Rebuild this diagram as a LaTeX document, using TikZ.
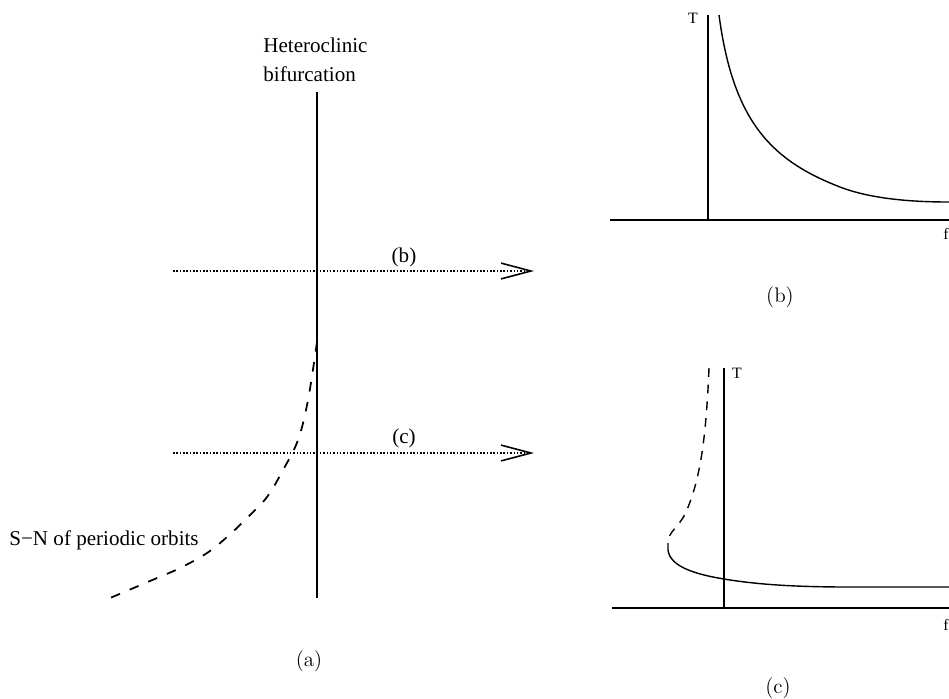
\documentclass[tikz,border=0pt]{standalone}
\usepackage{fontspec}
\usepackage{tikz}
\usetikzlibrary{positioning,arrows.meta}
\newfontfamily\tmsfont{Liberation Serif}

\begin{document}
\begin{tikzpicture}[
      x=0.02cm,y=-0.02cm,
      lbl/.style={font=\tmsfont\fontsize{12}{16}\selectfont,inner sep=0pt},
      axlbl/.style={font=\tmsfont\fontsize{9}{10}\selectfont,inner sep=0pt},
      captxt/.style={font=\fontsize{12}{14}\selectfont,inner sep=0pt},
      axis/.style={draw=black,line width=0.8pt},
      branch/.style={draw=black,line width=0.8pt},
      unstable/.style={draw=black,line width=1pt,dash pattern=on 5.5pt off 6pt},
      probe/.style={draw=black,line width=1.1pt,dash pattern=on 0.9pt off 1pt,
        -{Straight Barb[length=17pt,width=9pt,line width=0.9pt]}}
    ]
    \useasboundingbox (0,0) rectangle (949,698);
    % panel (a): the parameter plane
    \coordinate (hTop) at (317,92);
    \coordinate (hBot) at (317,598);
    \draw[branch,line width=1pt] (hTop) -- (hBot);
    \node[lbl,align=left,anchor=north west] (hetero) at (263,38)
      {Heteroclinic\\bifurcation};
    \draw[unstable] plot[smooth,tension=0.6] coordinates
      {(317,342) (308,400) (298,440) (283,470) (267,497) (247,518) (227,537)
       (207,553) (180,568) (150,581) (110,598)};
    \node[lbl,anchor=base west] (sn) at (9,545) {S−N of periodic orbits};
    \coordinate (bStart) at (173,271);
    \coordinate (bEnd) at (534,271);
    \coordinate (cStart) at (173,453);
    \coordinate (cEnd) at (534,453);
    \draw[probe] (bStart) -- (bEnd);
    \draw[probe] (cStart) -- (cEnd);
    \node[lbl] (pathB) at (404,257) {(b)};
    \node[lbl] (pathC) at (404,438) {(c)};
    \node[captxt] (capA) at (309,661) {(a)};
    % panel (b): period above the heteroclinic point
    \coordinate (bO) at (708,220);
    \draw[axis] (610,220) -- (949,220);
    \draw[axis] (bO) -- (708,15);
    \node[axlbl] (tB) at (693,18) {T};
    \node[axlbl] (fB) at (946,234) {f};
    \draw[branch] (719,15) .. controls (733,120) and (770,160) .. (840,187)
      .. controls (870,198.6) and (910,202) .. (949,202);
    \node[captxt] (capB) at (780,297) {(b)};
    % panel (c): period through the saddle-node
    \coordinate (cO) at (724,608);
    \draw[axis] (612,608) -- (949,608);
    \draw[axis] (cO) -- (724,368);
    \node[axlbl] (tC) at (737,373) {T};
    \node[axlbl] (fC) at (946,625) {f};
    \draw[unstable,line width=0.8pt,dash pattern=on 5pt off 4.5pt] (709,368)
      .. controls (706,440) and (700,480) .. (686,512)
      .. controls (680,526) and (668,532) .. (668,542);
    \draw[branch] (668,543) -- (668,550) .. controls (670,568) and (700,575) .. (724,579)
      .. controls (760,585) and (800,587) .. (850,587) -- (949,587);
    \node[captxt] (capC) at (778,688) {(c)};
  \end{tikzpicture}
\end{document}
